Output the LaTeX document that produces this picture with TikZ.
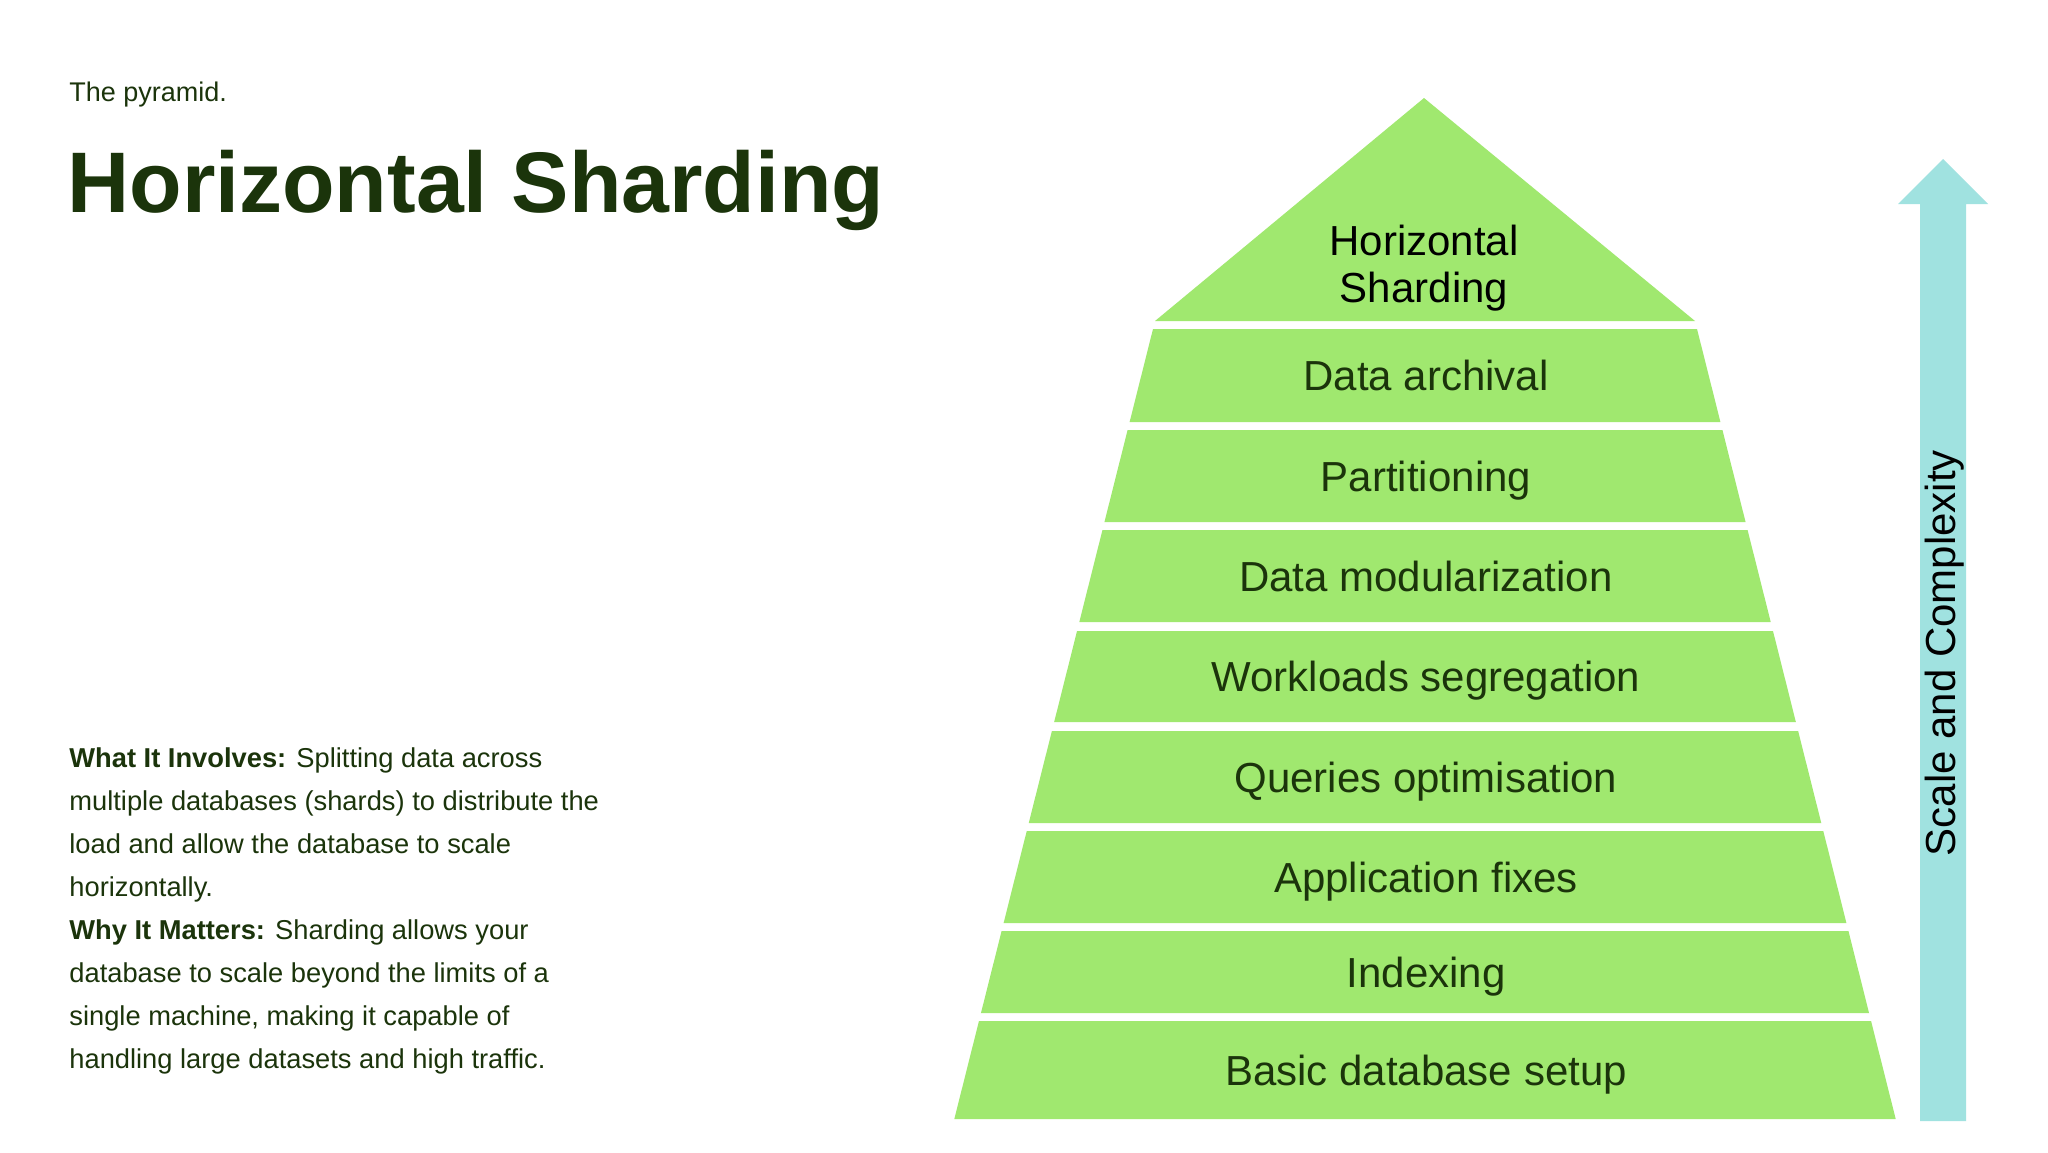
\documentclass[tikz,border=0pt]{standalone}
\usepackage{fontspec}
\setmainfont{Liberation Sans}
\definecolor{txtgreen}{RGB}{27,52,11}
\definecolor{pyrgreen}{RGB}{160,232,111}
\definecolor{arrowcyan}{RGB}{160,226,224}
\begin{document}
\begin{tikzpicture}[x=0.5pt,y=-0.5pt,
  layer/.style={fill=pyrgreen},
  lbl/.style={anchor=base,text=txtgreen,font=\fontsize{21}{25}\selectfont,inner sep=0pt},
  body/.style={anchor=base west,text=txtgreen,font=\fontsize{13.65}{21.5}\selectfont,inner sep=0pt}]
\fill[white] (0,0) rectangle (2048,1152);
\useasboundingbox (0,0) rectangle (2048,1152);
\def\cx{1425}
% title block
\node[anchor=base west,text=txtgreen,font=\fontsize{13.5}{16}\selectfont,inner sep=0pt] (sub) at (69,101) {The pyramid.};
\node[anchor=base west,text=txtgreen,font=\fontsize{43}{50}\selectfont\bfseries,inner sep=0pt] (title) at (67,212) {Horizontal Sharding};
% body
\node[body] (b1) at (69,767) {\textbf{What It Involves:} Splitting data across};
\node[body] (b2) at (69,810) {multiple databases (shards) to distribute the};
\node[body] (b3) at (69,853) {load and allow the database to scale};
\node[body] (b4) at (69,896) {horizontally.};
\node[body] (b5) at (69,939) {\textbf{Why It Matters:} Sharding allows your};
\node[body] (b6) at (69,982) {database to scale beyond the limits of a};
\node[body] (b7) at (69,1025) {single machine, making it capable of};
\node[body] (b8) at (69,1068) {handling large datasets and high traffic.};
% apex triangle
\fill[layer] (\cx-1,98) -- (\cx+270,321) -- (\cx-270,321) -- cycle;
\node[align=center,text=black,font=\fontsize{21}{23.5}\selectfont,inner sep=0pt] (top) at (\cx-1,268) {Horizontal\\Sharding};
% layers
\foreach \t/\b/\lab/\nm in {329/422/Data archival/l1,430/522/Partitioning/l2,530/622/Data modularization/l3,631/722/Workloads segregation/l4,731/823/Queries optimisation/l5,831/923/Application fixes/l6,931/1013/Indexing/l7,1021/1119/Basic database setup/l8}{
  \pgfmathsetmacro\hwt{270+0.2515*(\t-321)}
  \pgfmathsetmacro\hwb{270+0.2515*(\b-321)}
  \fill[layer] (\cx-\hwt,\t) -- (\cx+\hwt,\t) -- (\cx+\hwb,\b) -- (\cx-\hwb,\b) -- cycle;
  \pgfmathsetmacro\my{(\t+\b)/2+15}
  \node[lbl] (\nm) at (\cx+1,\my) {\lab};
}
% arrow
\fill[arrowcyan] (1920,1121) -- (1920,204) -- (1898,204) -- (1943,159) -- (1988,204) -- (1966,204) -- (1966,1121) -- cycle;
\node[rotate=90,text=black,font=\fontsize{21}{25}\selectfont,inner sep=0pt] (axis) at (1945,653) {Scale and Complexity};
\end{tikzpicture}
\end{document}
